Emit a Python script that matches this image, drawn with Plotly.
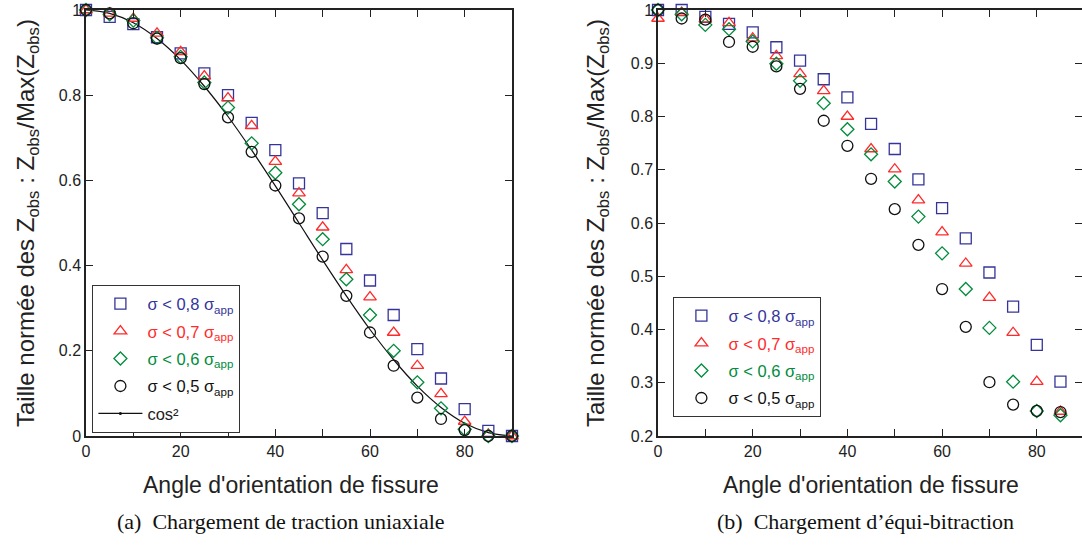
import plotly.graph_objects as go

W, H = 1082, 546

angles = [0, 5, 10, 15, 20, 25, 30, 35, 40, 45, 50, 55, 60, 65, 70, 75, 80, 85, 90]

# (a) traction uniaxiale
sq_a = [1.0, 0.984, 0.967, 0.936, 0.898, 0.851, 0.800, 0.735, 0.671, 0.593, 0.523, 0.439, 0.365, 0.284, 0.204, 0.135, 0.063, 0.012, 0.0]
tri_a = [1.0, 0.992, 0.980, 0.945, 0.902, 0.845, 0.793, 0.728, 0.644, 0.570, 0.490, 0.390, 0.326, 0.243, 0.165, 0.099, 0.034, 0.004, 0.0]
dia_a = [1.0, 0.990, 0.975, 0.935, 0.890, 0.830, 0.771, 0.687, 0.618, 0.544, 0.462, 0.368, 0.284, 0.200, 0.126, 0.065, 0.016, 0.0, 0.0]
cir_a = [1.0, 0.992, 0.969, 0.933, 0.887, 0.826, 0.748, 0.667, 0.588, 0.511, 0.421, 0.329, 0.243, 0.165, 0.090, 0.040, 0.014, 0.0, 0.0]
cos2_a = [1.0, 0.992, 0.970, 0.933, 0.883, 0.821, 0.750, 0.671, 0.587, 0.500, 0.413, 0.329, 0.250, 0.179, 0.117, 0.067, 0.030, 0.008, 0.0]

# (b) equi-bitraction
sq_b = [1.0, 1.0, 0.987, 0.974, 0.958, 0.930, 0.905, 0.870, 0.836, 0.786, 0.739, 0.682, 0.628, 0.571, 0.507, 0.443, 0.371, 0.302, 0.277]
tri_b = [0.984, 0.995, 0.983, 0.976, 0.947, 0.914, 0.880, 0.848, 0.800, 0.739, 0.701, 0.643, 0.583, 0.524, 0.460, 0.394, 0.302, 0.246, 0.222]
dia_b = [1.0, 0.992, 0.972, 0.964, 0.941, 0.899, 0.867, 0.825, 0.776, 0.729, 0.678, 0.612, 0.543, 0.476, 0.403, 0.302, 0.247, 0.239, 0.235]
cir_b = [1.0, 0.984, 0.982, 0.940, 0.931, 0.894, 0.852, 0.792, 0.745, 0.683, 0.626, 0.559, 0.476, 0.405, 0.301, 0.259, 0.247, 0.245, 0.245]

x_ticks = [0, 20, 40, 60, 80]
y_ticks_a = [0, 0.2, 0.4, 0.6, 0.8, 1.0]
y_ticktext_a = ["0", "0.2", "0.4", "0.6", "0.8", "1"]
y_ticks_b = [0.2, 0.3, 0.4, 0.5, 0.6, 0.7, 0.8, 0.9, 1.0]
y_ticktext_b = ["0.2", "0.3", "0.4", "0.5", "0.6", "0.7", "0.8", "0.9", "1"]

labels = ["0,8", "0,7", "0,6", "0,5"]
colors = ["#34349a", "#ff2a2a", "#008c3c", "#111111"]
symbols = ["square-open", "triangle-up-open", "diamond-open", "circle-open"]
sizes = [11, 11, 10, 11]

FONT = "Liberation Sans, Arial, sans-serif"

fig = go.Figure()

def name_of(i):
    return '<span style="color:%s">σ &lt; %s σ<sub>app</sub></span>' % (colors[i], labels[i])

# cos^2 curve (left)
fig.add_trace(go.Scatter(
    x=angles, y=cos2_a, mode="lines", line=dict(color="#111111", width=1.2, shape="spline"),
    name="cos²", legend="legend", legendgroup="c", xaxis="x", yaxis="y", showlegend=False))

for i, ys in enumerate([sq_a, tri_a, dia_a, cir_a]):
    fig.add_trace(go.Scatter(
        x=angles, y=ys, mode="markers", name=name_of(i), legend="legend", legendgroup="a%d" % i,
        marker=dict(symbol=symbols[i], size=sizes[i], color=colors[i], line=dict(width=1.3, color=colors[i])),
        cliponaxis=False, xaxis="x", yaxis="y"))

# legend entry for the cos^2 line (shown last)
fig.add_trace(go.Scatter(
    x=[None], y=[None], mode="lines+markers", line=dict(color="#111111", width=1.2),
    marker=dict(size=3, color="#111111"),
    name='<span style="color:#222">cos²</span>', legend="legend", legendgroup="c2", xaxis="x", yaxis="y"))

for i, ys in enumerate([sq_b, tri_b, dia_b, cir_b]):
    fig.add_trace(go.Scatter(
        x=angles, y=ys, mode="markers", name=name_of(i), legend="legend2", legendgroup="b%d" % i,
        marker=dict(symbol=symbols[i], size=sizes[i], color=colors[i], line=dict(width=1.3, color=colors[i])),
        cliponaxis=False, xaxis="x2", yaxis="y2"))

def px_x(p):
    return p / W

def px_y(p):
    return 1 - p / H

ydom = [px_y(436), px_y(10)]

axis_common = dict(
    showline=True, linecolor="#222222", linewidth=1.5, mirror="allticks",
    ticks="inside", tickcolor="#222222", tickwidth=1.2, ticklen=7,
    showgrid=False, zeroline=False, automargin=False,
    tickfont=dict(family=FONT, size=16, color="#222222"),
)
x_minor = dict(dtick=10, tick0=0, ticks="inside", ticklen=7, tickwidth=1.2, tickcolor="#222222", showgrid=False)

fig.update_layout(
    width=W, height=H,
    margin=dict(l=0, r=0, t=0, b=0, pad=0),
    paper_bgcolor="white", plot_bgcolor="white",
    xaxis=dict(domain=[px_x(86), px_x(512)], range=[0, 90], tickvals=x_ticks, minor=x_minor,
               anchor="y", **axis_common),
    yaxis=dict(domain=ydom, range=[0, 1], tickvals=y_ticks_a, ticktext=y_ticktext_a,
               anchor="x", **axis_common),
    xaxis2=dict(domain=[px_x(658), 1.0], range=[0, 89.55], tickvals=x_ticks, minor=x_minor,
                anchor="y2", **axis_common),
    yaxis2=dict(domain=ydom, range=[0.2, 1.0], tickvals=y_ticks_b, ticktext=y_ticktext_b,
                anchor="x2", **axis_common),
    legend=dict(x=px_x(92), y=px_y(285), xanchor="left", yanchor="top",
                bgcolor="white", bordercolor="#333333", borderwidth=1.4,
                font=dict(family=FONT, size=16.5), itemwidth=44, tracegroupgap=3,
                traceorder="grouped"),
    legend2=dict(x=px_x(673), y=px_y(297), xanchor="left", yanchor="top",
                 bgcolor="white", bordercolor="#333333", borderwidth=1.4,
                 font=dict(family=FONT, size=16.5), itemwidth=44, tracegroupgap=3,
                 traceorder="grouped"),
    showlegend=True,
)

ytitle = "Taille normée des Z<sub>obs</sub> : Z<sub>obs</sub>/Max(Z<sub>obs</sub>)"
xtitle = "Angle d'orientation de fissure"
ann = [
    dict(text=ytitle, x=px_x(27), y=px_y(223), textangle=-90, size=24),
    dict(text=ytitle, x=px_x(597), y=px_y(223), textangle=-90, size=24),
    dict(text=xtitle, x=px_x(291), y=px_y(485), textangle=0, size=23),
    dict(text=xtitle, x=px_x(871), y=px_y(485), textangle=0, size=23),
]
for a in ann:
    fig.add_annotation(xref="paper", yref="paper", showarrow=False, xanchor="center", yanchor="middle",
                       text=a["text"], x=a["x"], y=a["y"], textangle=a["textangle"],
                       font=dict(family=FONT, size=a["size"], color="#222222"))

fig.add_annotation(text="(a)  Chargement de traction uniaxiale", x=px_x(281), y=px_y(521),
                   xref="paper", yref="paper", showarrow=False, xanchor="center", yanchor="middle",
                   font=dict(family="Liberation Serif, Times New Roman, serif", size=22, color="#111111"))
fig.add_annotation(text="(b)  Chargement d’équi-bitraction", x=px_x(865), y=px_y(521),
                   xref="paper", yref="paper", showarrow=False, xanchor="center", yanchor="middle",
                   font=dict(family="Liberation Serif, Times New Roman, serif", size=22, color="#111111"))

fig.write_html("out.html", config={"displayModeBar": False},
               post_script="document.body.style.margin='0';document.body.style.overflow='hidden';")
